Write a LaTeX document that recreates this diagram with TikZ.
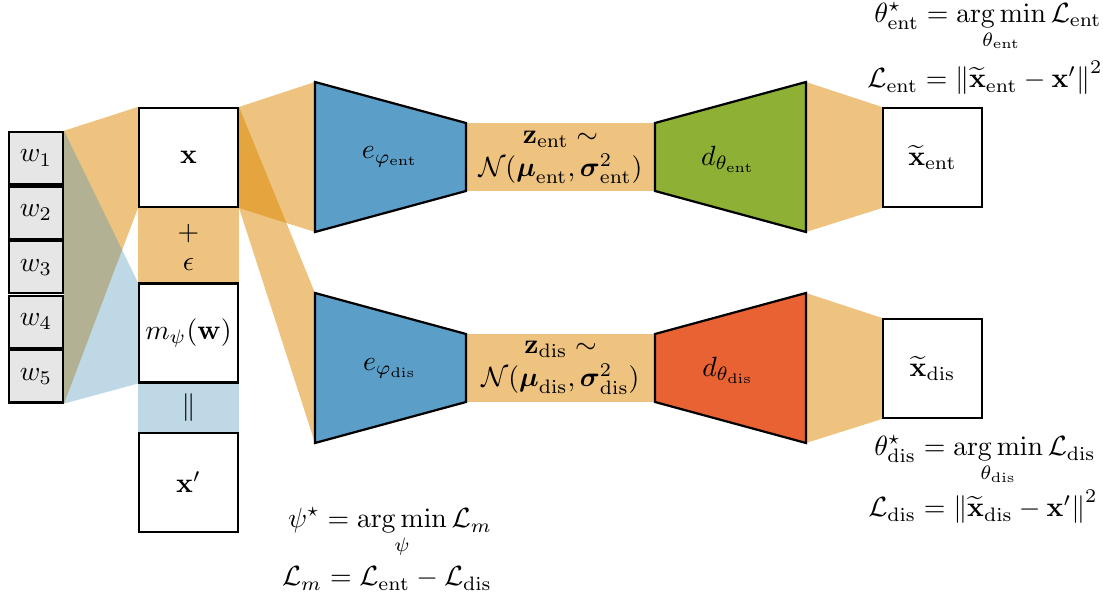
\documentclass[tikz,border=0pt]{standalone}
\definecolor{fanOrange}{RGB}{219,135,0}
\definecolor{fanBlue}{RGB}{69,144,184}
\definecolor{encBlue}{RGB}{91,158,200}
\definecolor{decGreen}{RGB}{142,176,53}
\definecolor{decRed}{RGB}{233,98,52}
\definecolor{wGray}{RGB}{230,230,230}
\usepackage{amsmath,amssymb,amsfonts}
\usepackage{tikz}
\usetikzlibrary{positioning,calc,backgrounds}

\tikzset{
  wbox/.style={draw, thick, fill=wGray, minimum width=19.4pt, minimum height=18.8pt, inner sep=0pt},
  databox/.style={draw, thick, fill=white, minimum width=35.6pt, minimum height=35.6pt, inner sep=0pt},
  orangefan/.style={fill=fanOrange, fill opacity=0.5},
  bluefan/.style={fill=fanBlue, fill opacity=0.35},
  coder/.style={draw, thick},
}

\begin{document}
\begin{tikzpicture}[x=3.6pt, y=-3.6pt]
  \useasboundingbox (0,0) rectangle (110.3,60);
  % word inputs
  \foreach \i in {1,...,5}
    \node[wbox] (w\i) at (3.6,{10.34+5.46*\i}) {$w_{\i}$};
  % mixing
  \node[databox] (x) at (18.85,15.75) {$\mathbf{x}$};
  \node (plus) at (18.85,23.4) {$+$};
  \node (eps) at (18.85,26.5) {$\epsilon$};
  \node[databox] (m) at (18.85,33.3) {$m_\psi(\mathbf{w})$};
  \node (par) at (18.85,40.8) {$\parallel$};
  \node[databox] (xp) at (18.85,48.25) {$\mathbf{x}'$};
  % two autoencoders
  \foreach \br/\dy/\dcol in {ent/0/decGreen, dis/21.1/decRed} {
    \draw[coder, fill=encBlue] (31.5,{8.2+\dy}) coordinate (enc-\br-nw)
      -- (46.6,{12.3+\dy}) coordinate (enc-\br-ne) -- (46.6,{19.1+\dy}) coordinate (enc-\br-se)
      -- (31.5,{23.2+\dy}) coordinate (enc-\br-sw) -- cycle;
    \draw[coder, fill=\dcol] (65.5,{12.3+\dy}) coordinate (dec-\br-nw)
      -- (80.6,{8.2+\dy}) coordinate (dec-\br-ne) -- (80.6,{23.2+\dy}) coordinate (dec-\br-se)
      -- (65.5,{19.1+\dy}) coordinate (dec-\br-sw) -- cycle;
    \node (e\br) at (39,{15.7+\dy}) {$e_{\varphi_{\mathrm{\br}}}$};
    \node (d\br) at (72.8,{15.9+\dy}) {$d_{\theta_{\mathrm{\br}}}$};
    \node[align=center] (z\br) at (56.05,{15.7+\dy})
      {$\mathbf{z}_{\mathrm{\br}} \sim$\\ $\mathcal{N}(\boldsymbol{\mu}_{\mathrm{\br}}, \boldsymbol{\sigma}^2_{\mathrm{\br}})$};
    \node[databox] (xt\br) at (93.25,{15.75+\dy}) {$\widetilde{\mathbf{x}}_{\mathrm{\br}}$};
    \begin{scope}[on background layer]
      \fill[orangefan] (enc-\br-ne) rectangle (dec-\br-sw);
      \fill[orangefan] (dec-\br-ne) -- (xt\br.north west) -- (xt\br.south west) -- (dec-\br-se) -- cycle;
      \fill[orangefan] (x.north east) -- (enc-\br-nw) -- (enc-\br-sw) -- (x.south east) -- cycle;
    \end{scope}
  }
  % fans from the words
  \begin{scope}[on background layer]
    \fill[orangefan] (w1.north east) -- (x.north west) -- (x.south west) -- (w5.south east) -- cycle;
    \fill[bluefan] (w1.north east) -- (m.north west) -- (m.south west) -- (w5.south east) -- cycle;
    \fill[orangefan] (x.south west) rectangle (m.north east);
    \fill[bluefan] (m.south west) rectangle (xp.north east);
  \end{scope}
  % objectives
  \node[anchor=base] (thent) at (98.8,2.25)
    {$\displaystyle \theta^\star_{\mathrm{ent}} = \operatorname*{arg\,min}_{\theta_{\mathrm{ent}}} \mathcal{L}_{\mathrm{ent}}$};
  \node[anchor=base] (lent) at (98.5,8.8)
    {$\mathcal{L}_{\mathrm{ent}} = \left\|\widetilde{\mathbf{x}}_{\mathrm{ent}} - \mathbf{x}'\right\|^2$};
  \node[anchor=base] (thdis) at (98.5,45.6)
    {$\displaystyle \theta^\star_{\mathrm{dis}} = \operatorname*{arg\,min}_{\theta_{\mathrm{dis}}} \mathcal{L}_{\mathrm{dis}}$};
  \node[anchor=base] (ldis) at (98.3,51.7)
    {$\mathcal{L}_{\mathrm{dis}} = \left\|\widetilde{\mathbf{x}}_{\mathrm{dis}} - \mathbf{x}'\right\|^2$};
  \node[anchor=base] (psi) at (39,52.8)
    {$\displaystyle \psi^\star = \operatorname*{arg\,min}_{\psi} \mathcal{L}_m$};
  \node[anchor=base] (lm) at (38.7,58.6)
    {$\mathcal{L}_m = \mathcal{L}_{\mathrm{ent}} - \mathcal{L}_{\mathrm{dis}}$};
\end{tikzpicture}
\end{document}
